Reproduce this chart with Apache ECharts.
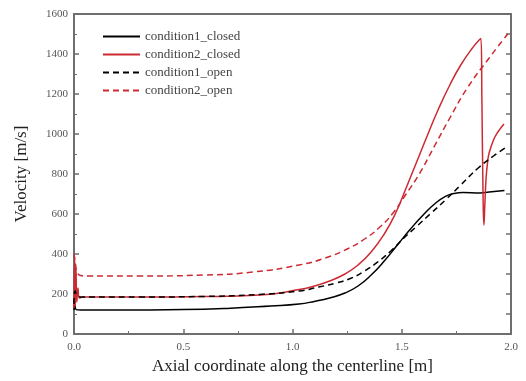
<!DOCTYPE html>
<html>
<head>
<meta charset="utf-8">
<script src="https://cdn.jsdelivr.net/npm/echarts@6/dist/echarts.min.js"></script>
<style>html,body{margin:0;padding:0;background:#fff;}#c{width:526px;height:381px;}</style>
</head>
<body>
<div id="c"></div>
<script>
var seriesNames = ['condition1_closed', 'condition2_closed', 'condition1_open', 'condition2_open'];

var c1ClosedX = [0, 0.004, 0.01, 0.03, 0.2, 0.5, 0.7, 0.9, 1.03, 1.1, 1.17, 1.24, 1.3, 1.36, 1.42, 1.48, 1.54, 1.6, 1.65, 1.7, 1.74, 1.78, 1.86, 1.9, 1.97];
var c1ClosedY = [120, 145, 122, 120, 120, 122, 128, 140, 150, 163, 180, 205, 240, 295, 365, 445, 525, 597, 650, 688, 703, 707, 705, 710, 718];

var c2ClosedX = [0, 0.003, 0.006, 0.009, 0.013, 0.018, 0.025, 0.04, 0.3, 0.6, 0.85, 1.03, 1.1, 1.17, 1.24, 1.3, 1.36, 1.42, 1.47, 1.52, 1.57, 1.62, 1.67, 1.72, 1.77, 1.82, 1.862, 1.867, 1.872, 1.876, 1.88, 1.886, 1.893, 1.9, 1.92, 1.94, 1.968];
var c2ClosedY = [130, 390, 140, 330, 160, 230, 180, 185, 185, 187, 195, 222, 240, 265, 300, 345, 410, 500, 600, 730, 865, 1000, 1130, 1245, 1345, 1425, 1478, 1150, 700, 545, 640, 780, 860, 905, 970, 1010, 1050];

var c1OpenX = [0, 0.005, 0.015, 0.03, 0.3, 0.6, 0.85, 1.03, 1.12, 1.2, 1.27, 1.33, 1.39, 1.45, 1.51, 1.57, 1.63, 1.7, 1.77, 1.85, 1.92, 1.98];
var c1OpenY = [150, 215, 195, 185, 185, 188, 198, 215, 235, 255, 280, 315, 360, 415, 480, 540, 600, 670, 745, 830, 890, 935];

var c2OpenX = [0, 0.008, 0.016, 0.03, 0.06, 0.3, 0.6, 0.82, 1.03, 1.15, 1.25, 1.33, 1.4, 1.46, 1.52, 1.58, 1.65, 1.72, 1.8, 1.9, 1.985];
var c2OpenY = [400, 340, 305, 292, 290, 290, 295, 310, 345, 380, 425, 475, 535, 605, 700, 800, 940, 1080, 1230, 1380, 1500];

var xTicks = [0, 0.5, 1.0, 1.5, 2.0];
var yTicks = [0, 200, 400, 600, 800, 1000, 1200, 1400, 1600];

function pairs(xs, ys) { return xs.map(function (x, i) { return [x, ys[i]]; }); }

var serif = '"Liberation Serif", "DejaVu Serif", serif';
var axisColor = '#6e6e6e';
var red = '#cc2a33';

var chart = echarts.init(document.getElementById('c'), null, { renderer: 'canvas' });
var xMin = xTicks[0], xMax = xTicks[xTicks.length - 1], xInt = xTicks[1] - xTicks[0];
var yMin = yTicks[0], yMax = yTicks[yTicks.length - 1], yInt = yTicks[1] - yTicks[0];

function mkSeries(name, data, color, dash) {
  return {
    name: name, type: 'line', data: data, xAxisIndex: 0, yAxisIndex: 0,
    showSymbol: false, symbol: 'none', smooth: 0.5,
    lineStyle: { color: color, width: 1.5, type: dash ? [6, 4] : 'solid' },
    itemStyle: { color: color }
  };
}

chart.setOption({
  animation: false,
  backgroundColor: '#fff',
  grid: { left: 74, top: 14, right: 15, bottom: 47, containLabel: false },
  legend: {
    orient: 'vertical', left: 97, top: 25, itemWidth: 37, itemHeight: 14, itemGap: 5,
    data: seriesNames,
    itemStyle: { opacity: 0 },
    textStyle: { fontFamily: serif, fontSize: 13, color: '#444' }
  },
  xAxis: [{
    type: 'value', min: xMin, max: xMax, interval: xInt,
    name: 'Axial coordinate along the centerline [m]', nameLocation: 'middle', nameGap: 23,
    nameTextStyle: { fontFamily: serif, fontSize: 17, color: '#222' },
    axisLine: { show: true, lineStyle: { color: axisColor, width: 2 } },
    axisTick: { show: true, inside: true, length: 5, lineStyle: { color: axisColor, width: 1.5 } },
    minorTick: { show: true, splitNumber: 2, length: 3, lineStyle: { color: axisColor } },
    splitLine: { show: false },
    axisLabel: { fontFamily: serif, fontSize: 11, color: '#555', margin: 8, formatter: function (v) { return v.toFixed(1); } }
  }, {
    type: 'value', position: 'top', min: xMin, max: xMax, interval: xInt,
    axisLine: { show: true, onZero: false, lineStyle: { color: axisColor, width: 2 } },
    axisTick: { show: false }, axisLabel: { show: false }, splitLine: { show: false }
  }],
  yAxis: [{
    type: 'value', min: yMin, max: yMax, interval: yInt,
    name: 'Velocity [m/s]', nameLocation: 'middle', nameGap: 44,
    nameTextStyle: { fontFamily: serif, fontSize: 17, color: '#222' },
    axisLine: { show: true, lineStyle: { color: axisColor, width: 2 } },
    axisTick: { show: true, inside: true, length: 5, lineStyle: { color: axisColor, width: 1.5 } },
    minorTick: { show: true, splitNumber: 2, length: 3, lineStyle: { color: axisColor } },
    splitLine: { show: false },
    axisLabel: { fontFamily: serif, fontSize: 11, color: '#555', margin: 6, formatter: function (v) { return String(v); } }
  }, {
    type: 'value', position: 'right', min: yMin, max: yMax, interval: yInt,
    axisLine: { show: true, onZero: false, lineStyle: { color: axisColor, width: 2 } },
    axisTick: { show: true, inside: true, length: 5, lineStyle: { color: axisColor, width: 1.5 } },
    minorTick: { show: true, splitNumber: 2, length: 5, lineStyle: { color: axisColor, width: 1.5 } },
    axisLabel: { show: false }, splitLine: { show: false }
  }],
  series: [
    mkSeries(seriesNames[0], pairs(c1ClosedX, c1ClosedY), '#000', false),
    mkSeries(seriesNames[1], pairs(c2ClosedX, c2ClosedY), red, false),
    mkSeries(seriesNames[2], pairs(c1OpenX, c1OpenY), '#000', true),
    mkSeries(seriesNames[3], pairs(c2OpenX, c2OpenY), red, true)
  ]
});
</script>
</body>
</html>
